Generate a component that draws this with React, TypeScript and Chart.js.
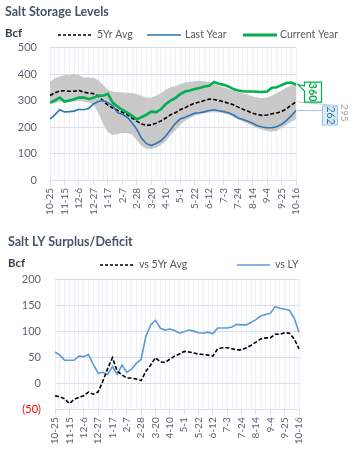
import React, { useEffect, useRef } from 'react';
import { Chart, registerables } from 'chart.js';

Chart.register(...registerables);

// ---------- data ----------
const WEEKS = ['10-25','11-1','11-8','11-15','11-22','11-29','12-6','12-13','12-20','12-27','1-3','1-10','1-17','1-24','1-31','2-7','2-14','2-21','2-28','3-6','3-13','3-20','3-27','4-3','4-10','4-17','4-24','5-1','5-8','5-15','5-22','5-29','6-5','6-12','6-19','6-26','7-3','7-10','7-17','7-24','7-31','8-7','8-14','8-21','8-28','9-4','9-11','9-18','9-25','10-2','10-9','10-16'];

const AVG_5YR = [319,329,336,337,335,335,338,331,328,326,316,300,282,272,263,256,247,234,222,211,206,208,214,223,234,246,254,265,273,282,290,294,300,305,304,300,295,290,284,275,267,260,252,247,244,245,250,253,259,268,282,295];
const LAST_YEAR = [230,246,265,257,258,260,267,265,270,287,296,300,292,280,254,248,237,216,191,157,137,130,138,148,166,190,214,230,237,244,252,254,257,262,265,261,258,254,246,234,228,222,214,205,200,197,197,201,210,224,242,262];
const CURRENT_YEAR = [292,300,311,296,300,305,311,311,306,310,319,318,325,292,277,265,254,242,229,237,247,258,256,267,286,300,309,324,334,338,343,347,353,356,370,363,359,353,343,338,335,334,334,333,332,334,348,350,358,366,368,360];
const RANGE_MAX = [371,384,391,396,397,400,396,387,387,386,376,359,341,333,332,330,329,328,325,318,310,311,318,328,341,350,355,362,368,371,373,375,373,370,363,356,349,344,337,332,328,322,315,311,309,311,318,328,338,348,357,360];
const RANGE_MIN = [287,290,296,292,294,296,300,295,292,285,255,212,180,170,174,177,177,172,150,128,118,117,122,132,146,170,188,208,224,234,242,248,252,255,256,255,252,246,238,229,221,213,205,196,190,185,183,185,197,208,220,229];

const VS_5YR = [-24,-26,-30,-39,-31,-27,-24,-17,-21,-17,4,28,49,23,16,10,10,8,5,23,35,49,41,40,46,52,56,61,60,58,56,55,54,52,66,68,68,66,64,64,68,73,79,85,87,87,94,94,97,96,85,66];
const VS_LY = [60,54,44,44,44,52,51,55,36,19,21,17,32,17,35,21,27,38,46,90,112,121,106,102,104,101,96,99,102,100,97,96,98,95,106,106,106,108,113,112,112,117,122,129,132,134,147,144,142,140,125,98];

const TOP_TITLE = 'Salt Storage Levels';
const BOTTOM_TITLE = 'Salt LY Surplus/Deficit';
const UNIT = 'Bcf';
const TOP_SERIES = ['5Yr Avg', 'Last Year', 'Current Year'];
const BOTTOM_SERIES = ['vs 5Yr Avg', 'vs LY'];
const LABEL_EVERY = 3;

// ---------- styles ----------
const FONT = 'Lato, "Open Sans", sans-serif';
const TICK_COLOR = '#5A6272';
const GRID_H = '#D9DEE8';
const GRID_V = '#EDF0F5';
const GREEN = '#00B050';
const BLUE = '#2E75B6';
const LIGHT_BLUE = '#5B9BD5';
const BAND = '#C9C9C9';
const DASH = [4, 2];

type LegendItem = { label: string; color: string; width: number; dash: number[]; x0: number; x1: number; tx: number };

function headerPlugin(id: string, title: string, tx: number, ty: number, by: number, ly: number, items: LegendItem[]) {
  return {
    id,
    afterDraw(chart: any) {
      const ctx = chart.ctx;
      ctx.save();
      ctx.textBaseline = 'middle';
      ctx.textAlign = 'left';
      ctx.fillStyle = '#44546A';
      ctx.font = `bold 12.5px ${FONT}`;
      ctx.fillText(title, tx, ty);
      ctx.fillStyle = '#333F50';
      ctx.font = `bold 11.5px ${FONT}`;
      ctx.fillText(UNIT, tx, by);
      ctx.font = `10.5px ${FONT}`;
      for (const it of items) {
        ctx.beginPath();
        ctx.setLineDash(it.dash);
        ctx.strokeStyle = it.color;
        ctx.lineWidth = it.width;
        ctx.moveTo(it.x0, ly);
        ctx.lineTo(it.x1, ly);
        ctx.stroke();
        ctx.setLineDash([]);
        ctx.fillStyle = '#595959';
        ctx.fillText(it.label, it.tx, ly);
      }
      ctx.restore();
    },
  };
}

const endLabelsPlugin = {
  id: 'endLabels',
  afterDatasetsDraw(chart: any) {
    const { ctx } = chart;
    const x = chart.scales.x;
    const y = chart.scales.y;
    const last = WEEKS.length - 1;
    const xe = x.getPixelForValue(last);
    const yc = y.getPixelForValue(CURRENT_YEAR[last]);
    const yl = y.getPixelForValue(LAST_YEAR[last]);
    const ya = y.getPixelForValue(AVG_5YR[last]);
    ctx.save();
    ctx.setLineDash([]);
    // 5yr avg connector + label
    ctx.strokeStyle = '#C8C8C8';
    ctx.lineWidth = 1;
    ctx.beginPath();
    ctx.moveTo(xe + 1, ya);
    ctx.lineTo(xe + 43, ya + 4);
    ctx.stroke();
    const drawVert = (txt: string, cx: number, cy: number, color: string, font: string) => {
      ctx.save();
      ctx.translate(cx, cy);
      ctx.rotate(Math.PI / 2);
      ctx.fillStyle = color;
      ctx.font = font;
      ctx.textAlign = 'center';
      ctx.textBaseline = 'middle';
      ctx.fillText(txt, 0, 0);
      ctx.restore();
    };
    ctx.fillStyle = '#FFFFFF';
    ctx.fillRect(xe + 42, ya + 2, 12, 19);
    drawVert(String(AVG_5YR[last]), xe + 48.5, ya + 11, '#A6A6A6', `10px ${FONT}`);
    // last year connector + box
    ctx.strokeStyle = '#9DC3E6';
    ctx.beginPath();
    ctx.moveTo(xe + 1, yl);
    ctx.lineTo(xe + 26, yl);
    ctx.stroke();
    ctx.fillStyle = '#DDEBF7';
    ctx.fillRect(xe + 26, yl - 5, 15, 19);
    ctx.strokeRect(xe + 26.5, yl - 4.5, 15, 19);
    drawVert(String(LAST_YEAR[last]), xe + 34, yl + 5, BLUE, `10.5px ${FONT}`);
    // current year callout
    const bx = xe + 8.5, by = yc - 2.5, bw = 17, bh = 20;
    ctx.beginPath();
    ctx.moveTo(bx, by);
    ctx.lineTo(bx + bw, by);
    ctx.lineTo(bx + bw, by + bh);
    ctx.lineTo(bx, by + bh);
    ctx.lineTo(bx, by + 9);
    ctx.lineTo(xe + 2, yc);
    ctx.lineTo(bx, by + 4);
    ctx.closePath();
    ctx.fillStyle = '#FFFFFF';
    ctx.fill();
    ctx.strokeStyle = GREEN;
    ctx.lineWidth = 1.2;
    ctx.stroke();
    drawVert(String(CURRENT_YEAR[last]), bx + bw / 2, by + bh / 2, GREEN, `bold 11px ${FONT}`);
    ctx.restore();
  },
};

function xAxis(height: number) {
  return {
    type: 'category' as const,
    offset: false,
    afterFit: (s: any) => { s.height = height; },
    grid: {
      color: GRID_V,
      lineWidth: 1,
      tickLength: 5,
      tickColor: (c: any) => (c.index % LABEL_EVERY === 0 ? GRID_H : 'rgba(0,0,0,0)'),
    },
    border: { color: GRID_H },
    ticks: {
      autoSkip: false,
      minRotation: 90,
      maxRotation: 90,
      padding: 3,
      color: TICK_COLOR,
      font: { family: FONT, size: 10 },
      callback: (_v: any, i: number) => (i % LABEL_EVERY === 0 ? WEEKS[i] : ''),
    },
  };
}

export default function App() {
  const topRef = useRef<HTMLCanvasElement>(null);
  const botRef = useRef<HTMLCanvasElement>(null);

  useEffect(() => {
    const top = new Chart(topRef.current as HTMLCanvasElement, {
      type: 'line',
      data: {
        labels: WEEKS,
        datasets: [
          { label: TOP_SERIES[0], data: AVG_5YR, borderColor: '#000000', borderWidth: 1.6, borderDash: DASH, pointRadius: 0, fill: false, order: 2 },
          { label: TOP_SERIES[1], data: LAST_YEAR, borderColor: BLUE, borderWidth: 1.6, pointRadius: 0, fill: false, order: 1 },
          { label: TOP_SERIES[2], data: CURRENT_YEAR, borderColor: GREEN, borderWidth: 2.6, pointRadius: 0, fill: false, order: 0 },
          { label: 'max', data: RANGE_MAX, borderColor: 'rgba(0,0,0,0)', borderWidth: 0, pointRadius: 0, fill: false, order: 5 },
          { label: 'min', data: RANGE_MIN, borderColor: 'rgba(0,0,0,0)', borderWidth: 0, pointRadius: 0, backgroundColor: BAND, fill: '-1', order: 5 },
        ],
      },
      options: {
        responsive: false,
        animation: false,
        layout: { padding: { top: 47.5, right: 58, left: 0, bottom: 0 } },
        plugins: { legend: { display: false }, tooltip: { enabled: false } },
        elements: { line: { tension: 0 } },
        scales: {
          x: xAxis(48),
          y: {
            min: 0,
            max: 500,
            afterFit: (s: any) => { s.width = 50; },
            grid: { color: GRID_H, drawTicks: false },
            border: { display: false },
            ticks: { stepSize: 100, padding: 13, color: TICK_COLOR, font: { family: FONT, size: 11 } },
          },
        },
      },
      plugins: [
        headerPlugin('hdrTop', TOP_TITLE, 5, 12, 33, 35, [
          { label: TOP_SERIES[0], color: '#000000', width: 1.5, dash: [3, 2], x0: 58, x1: 92, tx: 97 },
          { label: TOP_SERIES[1], color: BLUE, width: 1.6, dash: [], x0: 147, x1: 181, tx: 185 },
          { label: TOP_SERIES[2], color: GREEN, width: 3, dash: [], x0: 243, x1: 277, tx: 280 },
        ]),
        endLabelsPlugin,
      ],
    });

    const bot = new Chart(botRef.current as HTMLCanvasElement, {
      type: 'line',
      data: {
        labels: WEEKS,
        datasets: [
          { label: BOTTOM_SERIES[0], data: VS_5YR, borderColor: '#000000', borderWidth: 1.6, borderDash: DASH, pointRadius: 0, fill: false },
          { label: BOTTOM_SERIES[1], data: VS_LY, borderColor: LIGHT_BLUE, borderWidth: 1.6, pointRadius: 0, fill: false },
        ],
      },
      options: {
        responsive: false,
        animation: false,
        layout: { padding: { top: 51, right: 55, left: 0, bottom: 0 } },
        plugins: { legend: { display: false }, tooltip: { enabled: false } },
        elements: { line: { tension: 0 } },
        scales: {
          x: xAxis(46.7),
          y: {
            min: -50,
            max: 200,
            afterFit: (s: any) => { s.width = 55; },
            grid: { color: GRID_H, drawTicks: false },
            border: { display: false },
            ticks: {
              stepSize: 50,
              padding: 14,
              color: (c: any) => (c.tick && c.tick.value < 0 ? '#FF0000' : TICK_COLOR),
              font: { family: FONT, size: 11 },
              callback: (v: any) => (Number(v) < 0 ? `(${-Number(v)})` : `${v}`),
            },
          },
        },
      },
      plugins: [
        headerPlugin('hdrBot', BOTTOM_TITLE, 8, 13.7, 35, 37, [
          { label: BOTTOM_SERIES[0], color: '#000000', width: 1.5, dash: [3, 2], x0: 100, x1: 133, tx: 139 },
          { label: BOTTOM_SERIES[1], color: LIGHT_BLUE, width: 1.6, dash: [], x0: 237, x1: 270, tx: 275 },
        ]),
      ],
    });

    return () => {
      top.destroy();
      bot.destroy();
    };
  }, []);

  return (
    <div style={{ position: 'fixed', left: 0, top: 0, width: 354, height: 456, background: '#FFFFFF' }}>
      <canvas ref={topRef} width={354} height={228} style={{ position: 'absolute', left: 0, top: 0, width: 354, height: 228 }} />
      <canvas ref={botRef} width={354} height={228} style={{ position: 'absolute', left: 0, top: 228, width: 354, height: 228 }} />
    </div>
  );
}
